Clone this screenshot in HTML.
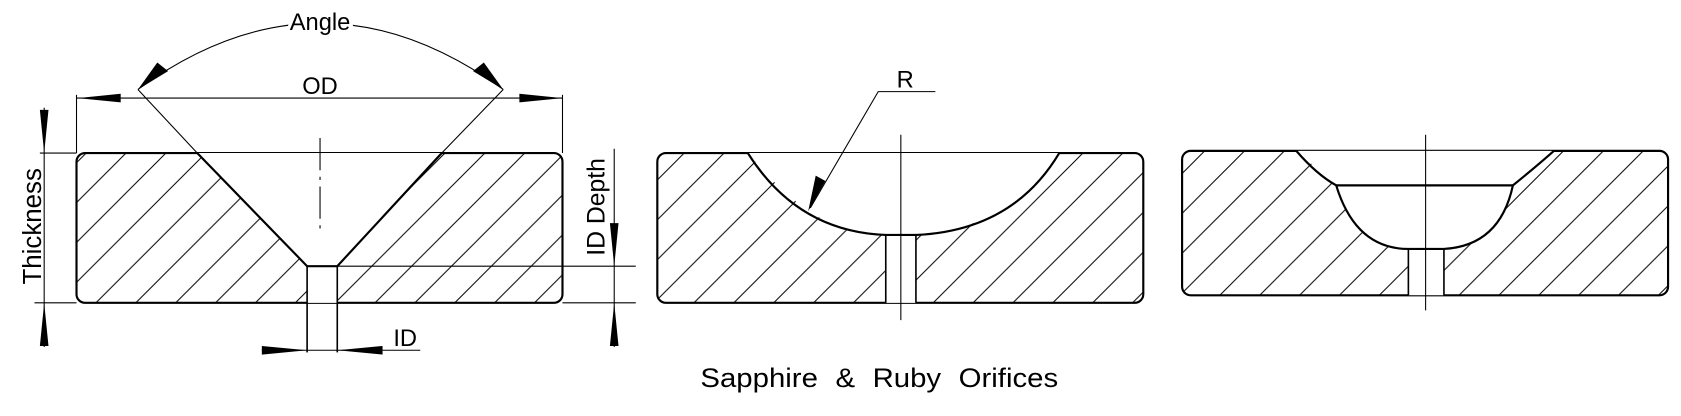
<!DOCTYPE html>
<html><head><meta charset="utf-8"><style>
html,body{margin:0;padding:0;background:#fff;}
svg{display:block}
text{font-family:"Liberation Sans",Arial,sans-serif;fill:#000}
</style></head><body>
<svg width="1681" height="416" viewBox="0 0 1560 386" preserveAspectRatio="none" xmlns="http://www.w3.org/2000/svg">
<defs>
<pattern id="h" patternUnits="userSpaceOnUse" width="37" height="37">
<path d="M-2,39 L39,-2 M-2,2 L2,-2 M35,39 L39,35" stroke="#000" stroke-width="0.9"/>
</pattern>
</defs>
<g stroke="#000" fill="none">
<!-- Panel 1 -->
<rect x="71" y="142" width="451" height="139" rx="8" fill="url(#h)" stroke-width="2"/>
<path d="M183,142 L285,247 L285,281 L313,281 L313,247 L410,142 Z" fill="#fff" stroke="none"/>
<path d="M183,142 L285,247 L313,247 L410,142" stroke-width="2"/>
<line x1="285" y1="247" x2="285" y2="327" stroke-width="1.5"/>
<line x1="313" y1="247" x2="313" y2="327" stroke-width="1.5"/>
<line x1="297" y1="128" x2="297" y2="212" stroke-width="1" stroke-dasharray="30,6,3,6"/>
<line x1="37" y1="142" x2="71" y2="142" stroke-width="1"/>
<line x1="32" y1="281" x2="71" y2="281" stroke-width="1"/>
<line x1="522" y1="281" x2="590" y2="281" stroke-width="1"/>
<line x1="313" y1="247" x2="590" y2="247" stroke-width="1"/>
<line x1="71" y1="88" x2="71" y2="142" stroke-width="1"/>
<line x1="522" y1="88" x2="522" y2="142" stroke-width="1"/>
<line x1="71" y1="91" x2="522" y2="91" stroke-width="1"/>
<line x1="128" y1="83" x2="183" y2="142" stroke-width="1"/>
<line x1="467" y1="83" x2="410" y2="142" stroke-width="1"/>
<path d="M128,83 Q297,-40 467,83" stroke-width="1"/>
<line x1="41" y1="100" x2="41" y2="322" stroke-width="1"/>
<line x1="570" y1="138" x2="570" y2="322" stroke-width="1"/>
<line x1="243" y1="325" x2="390" y2="325" stroke-width="1"/>
<!-- Panel 2 -->
<rect x="610" y="142" width="451" height="139" rx="8" fill="url(#h)" stroke-width="2"/>
<path d="M694,142 Q760,222 822,218 L822,281 L850,281 L850,218 Q930,215 983,142 Z" fill="#fff" stroke="none"/>
<path d="M694,142 Q740,215 822,218 L850,218 Q940,214 983,142" stroke-width="2"/>
<line x1="822" y1="218" x2="822" y2="281" stroke-width="1.5"/>
<line x1="850" y1="218" x2="850" y2="281" stroke-width="1.5"/>
<line x1="836" y1="125" x2="836" y2="297" stroke-width="1"/>
<path d="M868,85 L815,85 L752,193" stroke-width="1"/>
<!-- Panel 3 -->
<rect x="1097" y="140" width="451" height="134" rx="8" fill="url(#h)" stroke-width="2"/>
<path d="M1203,140 L1240,172 Q1260,231 1307,231 L1307,274 L1340,274 L1340,231 Q1390,231 1404,172 L1442,140 Z" fill="#fff" stroke="none"/>
<path d="M1203,140 Q1222,162 1240,172 Q1258,231 1307,231 L1340,231 Q1392,228 1404,172 Q1425,155 1442,140" stroke-width="2"/>
<line x1="1240" y1="172" x2="1404" y2="172" stroke-width="2"/>
<line x1="1307" y1="231" x2="1307" y2="274" stroke-width="1.5"/>
<line x1="1340" y1="231" x2="1340" y2="274" stroke-width="1.5"/>
<line x1="1323" y1="125" x2="1323" y2="288" stroke-width="1"/>
</g>
<g fill="#000" stroke="none">
<polygon points="72,91 112,87 112,95"/>
<polygon points="522,91 482,87 482,95"/>
<polygon points="128,83 146,58 156,66"/>
<polygon points="467,83 439,66 449,58"/>
<polygon points="41,142 37,102 45,102"/>
<polygon points="41,281 37,321 45,321"/>
<polygon points="570,247 566,207 574,207"/>
<polygon points="570,281 566,321 574,321"/>
<polygon points="285,325 243,321 243,329"/>
<polygon points="313,325 355,321 355,329"/>
<polygon points="750,196 757,163 766,168"/>
</g>
<text x="297" y="28" font-size="22" text-anchor="middle" stroke="#fff" stroke-width="6" paint-order="stroke">Angle</text>
<text x="297" y="87" font-size="22" text-anchor="middle">OD</text>
<text x="376" y="321" font-size="22" text-anchor="middle">ID</text>
<text x="840" y="81" font-size="22" text-anchor="middle">R</text>
<text transform="translate(38,210) rotate(-90)" font-size="24" text-anchor="middle">Thickness</text>
<text transform="translate(561,192) rotate(-90)" font-size="23" text-anchor="middle">ID Depth</text>
<text x="816" y="359" font-size="25" text-anchor="middle" word-spacing="8" textLength="332" lengthAdjust="spacingAndGlyphs">Sapphire &amp; Ruby Orifices</text>
</svg>
</body></html>
